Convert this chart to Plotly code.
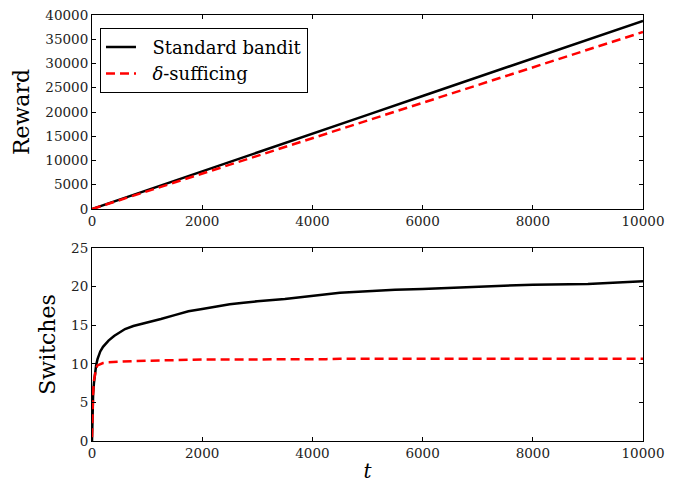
import plotly.graph_objects as go

# Reward panel
t_reward = [0, 1000, 2000, 3000, 4000, 5000, 6000, 7000, 8000, 9000, 10000]
reward_standard = [0, 3850, 7750, 11650, 15550, 19400, 23300, 27200, 31050, 34950, 38800]
reward_sufficing = [0, 3650, 7300, 10950, 14600, 18250, 21900, 25550, 29200, 32850, 36500]

# Switches panel
t_switch = [0, 10, 20, 35, 50, 75, 100, 150, 200, 300, 400, 500, 600, 750, 1000, 1250,
            1500, 1750, 2000, 2250, 2500, 2750, 3000, 3500, 4000, 4250, 4500, 5000, 5500,
            6000, 7000, 8000, 9000, 9500, 10000]
switch_standard = [0, 4.0, 6.0, 7.5, 8.6, 9.8, 10.6, 11.6, 12.2, 13.0, 13.6, 14.1, 14.5,
                   14.9, 15.3, 15.8, 16.3, 16.8, 17.1, 17.4, 17.7, 17.9, 18.1, 18.4, 18.8,
                   19.0, 19.2, 19.4, 19.6, 19.7, 20.0, 20.25, 20.35, 20.5, 20.7]
switch_sufficing = [0.5, 4.0, 6.2, 7.8, 8.7, 9.4, 9.8, 10.0, 10.1, 10.2, 10.25, 10.3, 10.3,
                    10.35, 10.4, 10.45, 10.5, 10.5, 10.55, 10.55, 10.55, 10.6, 10.6, 10.6,
                    10.6, 10.6, 10.65, 10.65, 10.65, 10.65, 10.65, 10.65, 10.65, 10.65, 10.65]

x_ticks = [0, 2000, 4000, 6000, 8000, 10000]
x_ticklabels = ["0", "2000", "4000", "6000", "8000", "10000"]
reward_ticks = [0, 5000, 10000, 15000, 20000, 25000, 30000, 35000, 40000]
reward_ticklabels = ["0", "5000", "10000", "15000", "20000", "25000", "30000", "35000", "40000"]
switch_ticks = [0, 5, 10, 15, 20, 25]
switch_ticklabels = ["0", "5", "10", "15", "20", "25"]

FONT = "DejaVu Serif"
PAD = "\u00a0\u00a0"

fig = go.Figure()
fig.add_trace(go.Scatter(x=t_reward, y=reward_standard, mode="lines", name=PAD + "Standard bandit",
                         line=dict(color="black", width=2.5), xaxis="x", yaxis="y"))
fig.add_trace(go.Scatter(x=t_reward, y=reward_sufficing, mode="lines", name=PAD + "<i>δ</i>-sufficing",
                         line=dict(color="red", width=2.5, dash="9px,5px"), xaxis="x", yaxis="y"))
fig.add_trace(go.Scatter(x=t_switch, y=switch_standard, mode="lines", showlegend=False,
                         line=dict(color="black", width=2.5), xaxis="x2", yaxis="y2"))
fig.add_trace(go.Scatter(x=t_switch, y=switch_sufficing, mode="lines", showlegend=False,
                         line=dict(color="red", width=2.5, dash="9px,5px"), xaxis="x2", yaxis="y2"))

axis_common = dict(showline=True, linecolor="black", linewidth=1, mirror="ticks",
                   ticks="inside", ticklen=4, tickcolor="black", showgrid=False,
                   zeroline=False, automargin=False, ticklabeloverflow="allow",
                   tickfont=dict(family=FONT, size=13.5, color="#222"))

# page body has an 8px default margin, so the figure is 8px smaller in each direction
fig.update_layout(
    width=675, height=479,
    margin=dict(l=84, r=40, t=7, b=46),
    paper_bgcolor="white", plot_bgcolor="white",
    font=dict(family=FONT, color="black"),
    xaxis=dict(domain=[0, 1], range=[0, 10000], tickvals=x_ticks, ticktext=x_ticklabels,
               anchor="y", **axis_common),
    yaxis=dict(domain=[0.5446, 1], range=[0, 40000], tickvals=reward_ticks,
               ticktext=reward_ticklabels, anchor="x",
               title=dict(text="Reward", font=dict(family=FONT, size=22), standoff=9),
               **axis_common),
    xaxis2=dict(domain=[0, 1], range=[0, 10000], tickvals=x_ticks, ticktext=x_ticklabels,
                anchor="y2",
                title=dict(text="<i>t</i>", font=dict(family=FONT, size=20), standoff=3),
                **axis_common),
    yaxis2=dict(domain=[0, 0.4531], range=[0, 25], tickvals=switch_ticks,
                ticktext=switch_ticklabels, anchor="x2",
                title=dict(text="Switches", font=dict(family=FONT, size=22), standoff=9),
                **axis_common),
    legend=dict(x=0.0145, y=0.97, xanchor="left", yanchor="top",
                bordercolor="black", borderwidth=1, bgcolor="white",
                font=dict(family=FONT, size=18, color="black"), tracegroupgap=0),
)

fig.write_html("out.html")
